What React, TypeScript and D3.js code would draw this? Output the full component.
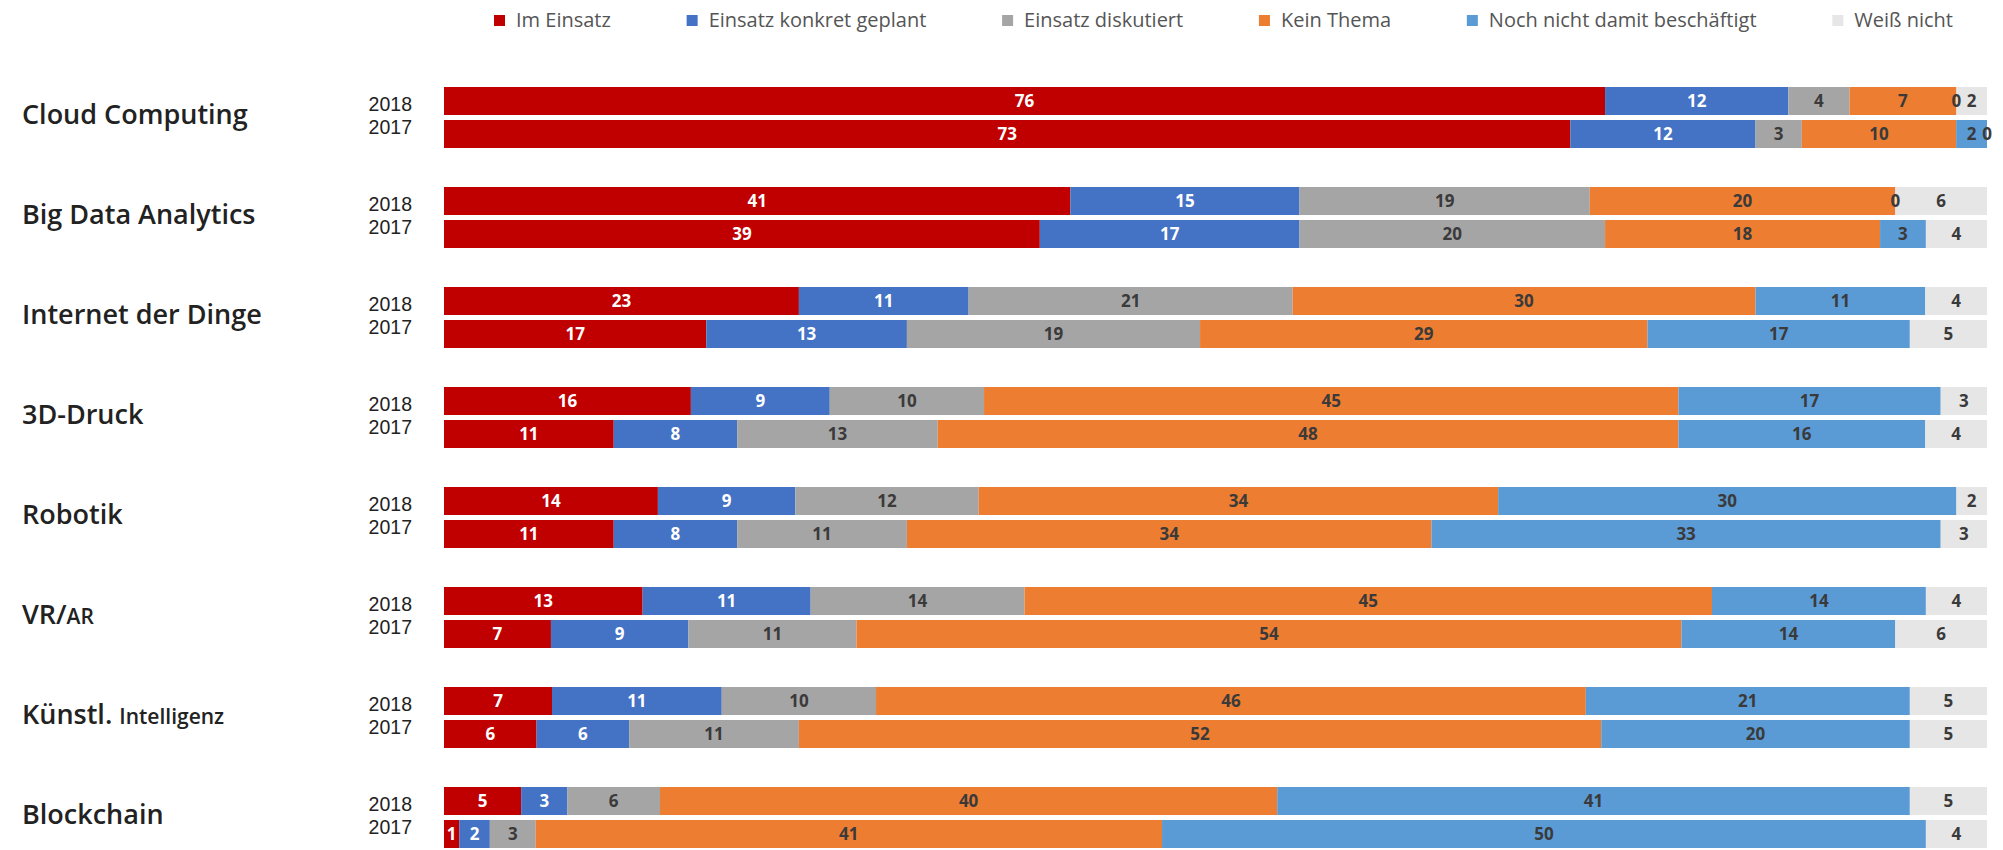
import { useEffect, useRef } from "react"
import * as d3 from "d3"

const categories = [
  "Cloud Computing",
  "Big Data Analytics",
  "Internet der Dinge",
  "3D-Druck",
  "Robotik",
  "VR/AR",
  "Künstl. Intelligenz",
  "Blockchain",
]
// part of a label that is set in a smaller size
const smallParts: Record<string, string> = { "VR/AR": "AR", "Künstl. Intelligenz": "Intelligenz" }

const years = ["2018", "2017"]

const seriesNames = [
  "Im Einsatz",
  "Einsatz konkret geplant",
  "Einsatz diskutiert",
  "Kein Thema",
  "Noch nicht damit beschäftigt",
  "Weiß nicht",
]
const seriesColors = ["#c00000", "#4472c4", "#a5a5a5", "#ed7d31", "#5b9bd5", "#e7e6e6"]
const labelColors = ["#ffffff", "#ffffff", "#3a3a3a", "#3a3a3a", "#3a3a3a", "#3a3a3a"]

const imEinsatz2018 = [76, 41, 23, 16, 14, 13, 7, 5]
const imEinsatz2017 = [73, 39, 17, 11, 11, 7, 6, 1]
const geplant2018 = [12, 15, 11, 9, 9, 11, 11, 3]
const geplant2017 = [12, 17, 13, 8, 8, 9, 6, 2]
const diskutiert2018 = [4, 19, 21, 10, 12, 14, 10, 6]
const diskutiert2017 = [3, 20, 19, 13, 11, 11, 11, 3]
const keinThema2018 = [7, 20, 30, 45, 34, 45, 46, 40]
const keinThema2017 = [10, 18, 29, 48, 34, 54, 52, 41]
const nochNicht2018 = [0, 0, 11, 17, 30, 14, 21, 41]
const nochNicht2017 = [2, 3, 17, 16, 33, 14, 20, 50]
const weissNicht2018 = [2, 6, 4, 3, 2, 4, 5, 5]
const weissNicht2017 = [0, 4, 5, 4, 3, 6, 5, 4]

const byYear: Record<string, number[][]> = {
  "2018": [imEinsatz2018, geplant2018, diskutiert2018, keinThema2018, nochNicht2018, weissNicht2018],
  "2017": [imEinsatz2017, geplant2017, diskutiert2017, keinThema2017, nochNicht2017, weissNicht2017],
}

const FONT = "'Open Sans', 'Noto Sans', sans-serif"

export default function App() {
  const svgRef = useRef<SVGSVGElement>(null)

  useEffect(() => {
    if (!svgRef.current) return
    const svg = d3.select(svgRef.current)
    svg.selectAll("*").remove()

    // rows: one per category and year
    const rows = categories.flatMap((cat, ci) =>
      years.map((year) => {
        const row: any = { cat, year }
        seriesNames.forEach((s, si) => (row[s] = byYear[year][si][ci]))
        return row
      }),
    )

    const stack = d3.stack<any>().keys(seriesNames).offset(d3.stackOffsetExpand)
    const layers = stack(rows)

    const x = d3.scaleLinear().domain([0, 1]).range([444, 1987])
    const yCat = d3.scaleBand().domain(categories).range([87, 848]).paddingInner(0.39).paddingOuter(0)
    const yYear = d3.scaleBand().domain(years).range([0, yCat.bandwidth()]).paddingInner(0.1515)
    const yPos = (d: any) => (yCat(d.data.cat) || 0) + (yYear(d.data.year) || 0)

    // bars
    const layerG = svg
      .append("g")
      .selectAll("g")
      .data(layers)
      .enter()
      .append("g")
      .attr("fill", (_, i) => seriesColors[i])

    layerG
      .selectAll("rect")
      .data((d) => d)
      .enter()
      .append("rect")
      .attr("x", (d) => x(d[0]))
      .attr("y", yPos)
      .attr("width", (d) => x(d[1]) - x(d[0]))
      .attr("height", yYear.bandwidth())

    // value labels
    layers.forEach((layer, li) => {
      svg
        .append("g")
        .selectAll("text")
        .data(layer)
        .enter()
        .append("text")
        .attr("x", (d) => (x(d[0]) + x(d[1])) / 2)
        .attr("y", (d) => yPos(d) + yYear.bandwidth() / 2)
        .attr("dy", "0.36em")
        .attr("text-anchor", "middle")
        .attr("font-family", FONT)
        .attr("font-size", 17)
        .attr("font-weight", 700)
        .attr("fill", labelColors[li])
        .text((d) => d.data[layer.key])
    })

    // year labels (tight line spacing, so a compact font)
    categories.forEach((cat) => {
      const top = yCat(cat) || 0
      years.forEach((year, yi) => {
        svg
          .append("text")
          .attr("x", 412)
          .attr("y", top + 24 + yi * 23)
          .attr("text-anchor", "end")
          .attr("font-family", "'Liberation Sans', Arial, sans-serif")
          .attr("font-size", 19.5)
          .attr("fill", "#222")
          .text(year)
      })
    })

    // category labels
    categories.forEach((cat) => {
      const small = smallParts[cat]
      const t = svg
        .append("text")
        .attr("x", 22)
        .attr("y", (yCat(cat) || 0) + 37)
        .attr("font-family", FONT)
        .attr("font-size", 27)
        .attr("font-weight", 600)
        .attr("fill", "#222")
      if (small) {
        t.append("tspan").text(cat.slice(0, cat.length - small.length))
        t.append("tspan").attr("font-size", 21).text(small)
      } else {
        t.text(cat)
      }
    })

    // legend: spread from first swatch to the end of the last text
    const legendG = svg.append("g")
    const items = seriesNames.map((name, i) => {
      const g = legendG.append("g")
      g.append("rect").attr("y", 15).attr("width", 11).attr("height", 11).attr("fill", seriesColors[i])
      const txt = g
        .append("text")
        .attr("x", 22)
        .attr("y", 27)
        .attr("font-family", FONT)
        .attr("font-size", 20)
        .attr("fill", "#555")
        .text(name)
      const w = 22 + (txt.node() as SVGTextElement).getComputedTextLength()
      return { g, w }
    })
    const start = 494
    const end = 1953
    const total = d3.sum(items, (d) => d.w)
    const gap = (end - start - total) / (items.length - 1)
    let cx = start
    items.forEach((it) => {
      it.g.attr("transform", `translate(${cx},0)`)
      cx += it.w + gap
    })
  }, [])

  return (
    <svg
      ref={svgRef}
      width={2003}
      height={850}
      style={{ position: "absolute", left: 0, top: 0, background: "#fff" }}
    />
  )
}
